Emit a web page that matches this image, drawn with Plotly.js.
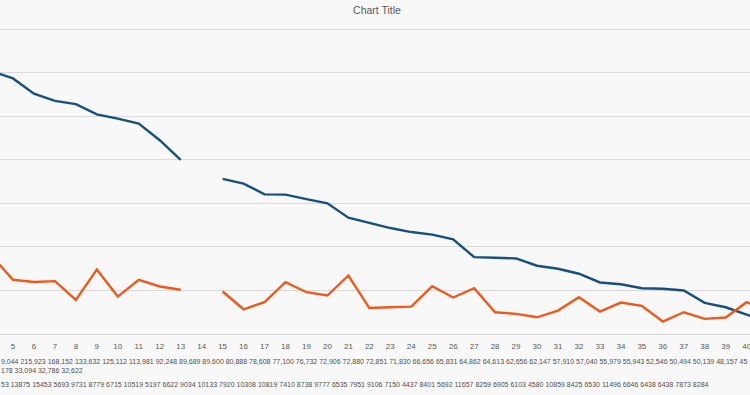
<!DOCTYPE html>
<html>
<head>
<meta charset="utf-8">
<script src="https://cdn.plot.ly/plotly-3.0.1.min.js"></script>
<style>
  html, body { margin: 0; padding: 0; background: #f8f8f8; }
  #chart { width: 750px; height: 395px; }
</style>
</head>
<body>
<div id="chart"></div>
<script>
// Categories (x axis)
const categories = [4,5,6,7,8,9,10,11,12,13,14,15,16,17,18,19,20,21,22,23,24,25,26,27,28,29,30,31,32,33,34,35,36,37,38,39,40,41];
// Series 1 (dark blue line)
const seriesBlue = [301600,293600,276100,267800,264000,252200,247400,241800,222600,199900,null,178200,172800,160400,160100,155000,150100,133600,127300,121700,117100,114100,108700,88300,87600,86800,78400,74900,69200,59200,57200,52600,51900,50000,35800,30700,22300,14300];
// Series 2 (orange line)
const seriesOrange = [89100,62300,59700,60700,39200,74100,43000,62300,54600,50800,null,48800,28400,36500,59500,48000,44200,67200,29800,30700,31500,54900,41900,52600,25000,23100,19200,26900,42200,25800,36100,32300,14300,25000,17400,18900,36500,26900];
// Visible tick labels
const tickLabels = ["5","6","7","8","9","10","11","12","13","14","15","16","17","18","19","20","21","22","23","24","25","26","27","28","29","30","31","32","33","34","35","36","37","38","39","40"];
// Data-table text rows under the chart
const tableRow1 = ["9,044","215,923","168,152","133,632","125,112","113,981","92,248","89,689","89,600","80,888","78,608","77,100","76,732","72,906","72,880","72,851","71,830","66,656","65,831","64,862","64,613","62,656","62,147","57,910","57,040","55,979","55,943","52,546","50,494","50,139","48,157","45"];
const tableRow2 = ["178","33,094","32,786","32,622"];
const tableRow3 = ["53","13875","15453","5693","9731","8779","6715","10519","5197","6622","9034","10133","7920","10308","10819","7410","8738","9777","6535","7951","9106","7150","4437","8401","5692","11657","8259","6905","6103","4580","10859","8425","6530","11496","6646","6438","6438","7873","8284"];

const FONT = "Liberation Sans, Arial, sans-serif";
const plotTop = 28, plotBottom = 334, plotH = plotBottom - plotTop;
function paperY(px) { return (plotBottom - px) / plotH; }

const traces = [
  { x: categories, y: seriesBlue, type: 'scatter', mode: 'lines', connectgaps: false,
    line: { color: '#17507e', width: 2.4 }, hoverinfo: 'skip', name: 'Series1' },
  { x: categories, y: seriesOrange, type: 'scatter', mode: 'lines', connectgaps: false,
    line: { color: '#ee5a1d', width: 2.4 }, hoverinfo: 'skip', name: 'Series2' }
];

function rowAnn(arr, py) {
  return { text: arr.join(' '), xref: 'paper', yref: 'paper', x: 0, y: paperY(py),
           xanchor: 'left', yanchor: 'middle', showarrow: false, borderpad: 0,
           font: { family: FONT, size: 7, color: '#505050' } };
}

const layout = {
  width: 750, height: 395,
  margin: { l: 0, r: 0, t: plotTop, b: 395 - plotBottom, pad: 0 },
  paper_bgcolor: '#f8f8f8', plot_bgcolor: '#f8f8f8',
  showlegend: false,
  title: { text: 'Chart Title', x: 377/750, xanchor: 'center', y: 1 - 10.7/395, yanchor: 'middle',
           font: { family: FONT, size: 10.5, color: '#595959' } },
  xaxis: { range: [4.38, 40.16], tickvals: categories.slice(1, 37), ticktext: tickLabels,
           showgrid: false, zeroline: false, showline: true, linecolor: '#d6d6d6', linewidth: 1,
           ticks: '', ticklabelstandoff: 4, ticklabeloverflow: 'allow',
           tickfont: { family: FONT, size: 8, color: '#595959' }, fixedrange: true },
  yaxis: { range: [0, 351500], tickvals: [50000,100000,150000,200000,250000,300000,350000],
           showgrid: true, gridcolor: '#d9d9d9', gridwidth: 1,
           zeroline: false, showticklabels: false, ticks: '', fixedrange: true },
  annotations: [ rowAnn(tableRow1, 361), rowAnn(tableRow2, 370), rowAnn(tableRow3, 384) ]
};

Plotly.newPlot('chart', traces, layout, { staticPlot: true, displayModeBar: false });
</script>
</body>
</html>
